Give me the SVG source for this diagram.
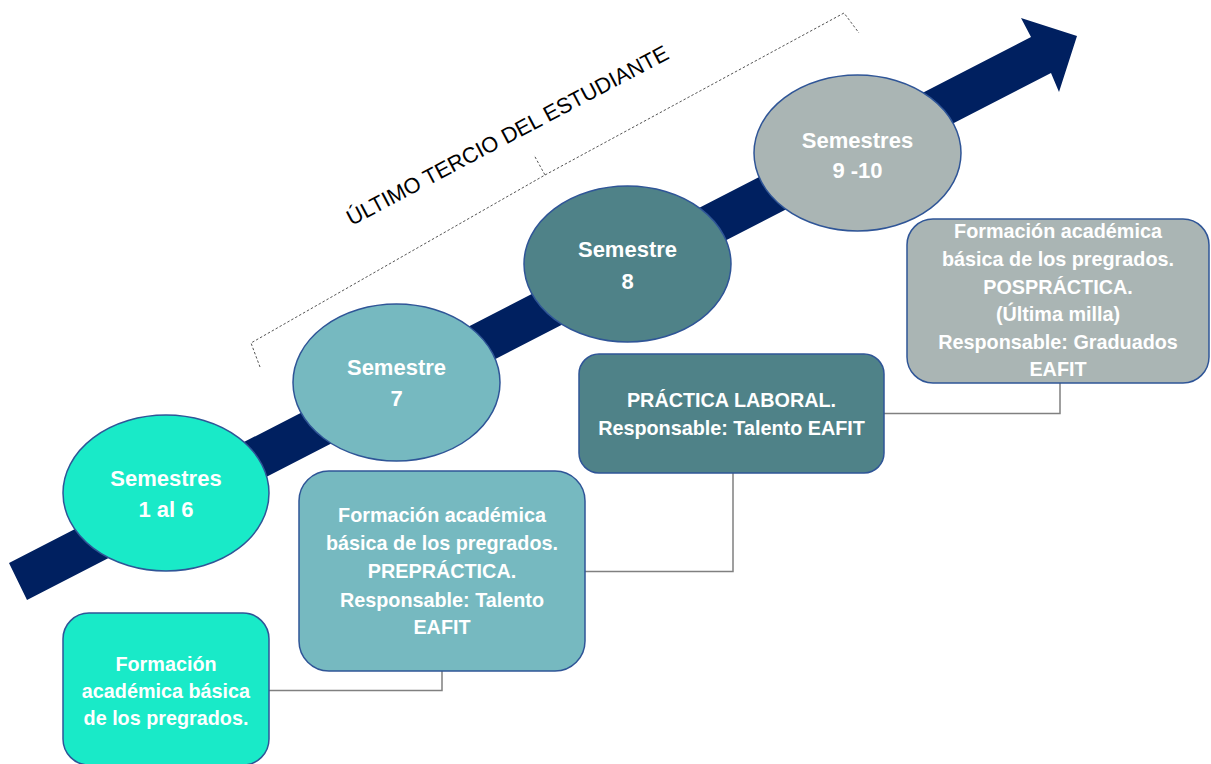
<svg xmlns="http://www.w3.org/2000/svg" width="1211" height="764" viewBox="0 0 1211 764">
<style>
.node-a{fill:#19EAC8;stroke:#2F5597;stroke-width:1.5}
.node-b{fill:#76B9C0;stroke:#2F5597;stroke-width:1.5}
.node-c{fill:#4F8288;stroke:#2F5597;stroke-width:1.5}
.node-d{fill:#AAB5B4;stroke:#2F5597;stroke-width:1.5}
.lbl{font-family:"Liberation Sans",Arial,sans-serif;font-weight:bold;fill:#FFFFFF;text-anchor:middle}
.box{font-size:19.8px}
.ell{font-size:22px}
.conn{fill:none;stroke:#808080;stroke-width:1.5}
.brace{fill:none;stroke:#555555;stroke-width:1;stroke-dasharray:2.5 2}
</style>
<rect width="1211" height="764" fill="#FFFFFF"/>
<g id="arrow">
<polygon points="9,563 1031,37 1021,18 1077,36 1059,92 1051,73 27,600" fill="#002060"/>
</g>
<g id="bracket">
<path class="brace" d="M260,367 L251,343 L545,175 L534,155 M545,175 L844,13 L859,33"/>
<text x="511" y="142" transform="rotate(-27.8 511 142)" font-family="'Liberation Sans',Arial,sans-serif" font-size="21.8" fill="#000000" text-anchor="middle">ÚLTIMO TERCIO DEL ESTUDIANTE</text>
</g>
<g id="connectors">
<path class="conn" d="M269,690.5 H442 V671"/>
<path class="conn" d="M585,571.5 H733 V473"/>
<path class="conn" d="M884,413.5 H1060 V383"/>
</g>
<g id="sem1-6">
<ellipse class="node-a" cx="166" cy="493" rx="103" ry="78"/>
<text class="lbl ell" x="166" y="486">Semestres</text>
<text class="lbl ell" x="166" y="517">1 al 6</text>
</g>
<g id="sem7">
<ellipse class="node-b" cx="396.5" cy="382.5" rx="103.5" ry="78.5"/>
<text class="lbl ell" x="396.5" y="375">Semestre</text>
<text class="lbl ell" x="396.5" y="406">7</text>
</g>
<g id="sem8">
<ellipse class="node-c" cx="627.5" cy="264" rx="103.5" ry="78"/>
<text class="lbl ell" x="627.5" y="257">Semestre</text>
<text class="lbl ell" x="627.5" y="289">8</text>
</g>
<g id="sem9-10">
<ellipse class="node-d" cx="857.5" cy="153" rx="103.5" ry="78"/>
<text class="lbl ell" x="857.5" y="148">Semestres</text>
<text class="lbl ell" x="857.5" y="178">9 -10</text>
</g>
<g id="box-basica">
<rect class="node-a" x="63" y="613" width="206" height="152" rx="26"/>
<text class="lbl box" x="166" y="671">Formación</text>
<text class="lbl box" x="166" y="698">académica básica</text>
<text class="lbl box" x="166" y="725">de los pregrados.</text>
</g>
<g id="box-prepractica">
<rect class="node-b" x="299" y="471" width="286" height="200" rx="30"/>
<text class="lbl box" x="442" y="522">Formación académica</text>
<text class="lbl box" x="442" y="550">básica de los pregrados.</text>
<text class="lbl box" x="442" y="578">PREPRÁCTICA.</text>
<text class="lbl box" x="442" y="607">Responsable: Talento</text>
<text class="lbl box" x="442" y="634">EAFIT</text>
</g>
<g id="box-practica">
<rect class="node-c" x="579" y="354" width="305" height="119" rx="20"/>
<text class="lbl box" x="731.5" y="407">PRÁCTICA LABORAL.</text>
<text class="lbl box" x="731.5" y="435">Responsable: Talento EAFIT</text>
</g>
<g id="box-pospractica">
<rect class="node-d" x="907" y="219" width="302" height="164" rx="26"/>
<text class="lbl box" x="1058" y="238">Formación académica</text>
<text class="lbl box" x="1058" y="266">básica de los pregrados.</text>
<text class="lbl box" x="1058" y="294">POSPRÁCTICA.</text>
<text class="lbl box" x="1058" y="321">(Última milla)</text>
<text class="lbl box" x="1058" y="349">Responsable: Graduados</text>
<text class="lbl box" x="1058" y="376">EAFIT</text>
</g>
</svg>
